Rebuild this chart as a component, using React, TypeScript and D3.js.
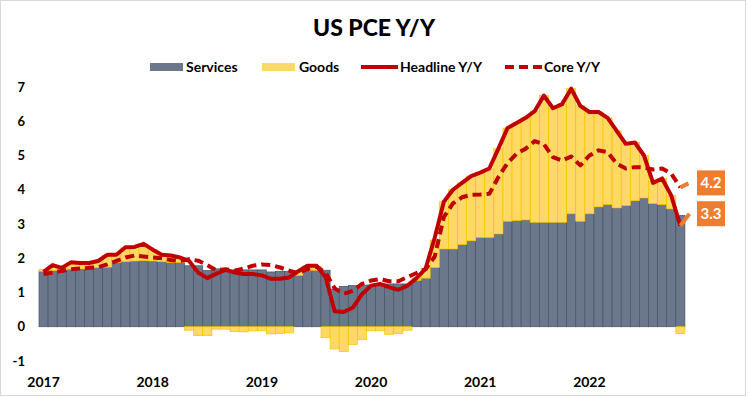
import React from "react";
import * as d3 from "d3";

// contributions (pp), one per month
const services = [
  1.62, 1.64, 1.66, 1.68, 1.69, 1.71, 1.73, 1.74, 1.88, 1.9, 1.92, 1.93,
  1.92, 1.9, 1.88, 1.88, 1.78, 1.78, 1.64, 1.69, 1.66, 1.66, 1.66, 1.66,
  1.66, 1.6, 1.62, 1.62, 1.5, 1.65, 1.65, 1.65, 1.1, 1.18, 1.2, 1.2,
  1.22, 1.25, 1.25, 1.25, 1.25, 1.35, 1.42, 1.73, 2.27, 2.27, 2.4, 2.51,
  2.61, 2.61, 2.71, 3.08, 3.1, 3.12, 3.05, 3.05, 3.05, 3.05, 3.3, 3.08,
  3.3, 3.5, 3.57, 3.47, 3.54, 3.68, 3.76, 3.6, 3.57, 3.44, 3.25
];
const goods = [
  0.05, 0.14, 0.08, 0.18, 0.16, 0.14, 0.18, 0.34, 0.2, 0.4, 0.4, 0.48,
  0.32, 0.2, 0.2, 0.14, -0.1, -0.26, -0.26, -0.07, -0.07, -0.14, -0.15, -0.12,
  -0.12, -0.21, -0.2, -0.18, 0.1, 0.12, 0.12, -0.32, -0.65, -0.72, -0.52, -0.38,
  -0.12, -0.12, -0.22, -0.2, -0.1, 0.07, 0.28, 0.8, 1.38, 1.73, 1.8, 1.89,
  1.89, 2.0, 2.49, 2.72, 2.85, 2.98, 3.25, 3.7, 3.33, 3.45, 3.65, 3.37,
  2.97, 2.77, 2.53, 2.25, 1.8, 1.7, 1.24, 0.65, 0.76, 0.39, -0.2
];
const headline = [
  1.6, 1.8, 1.72, 1.88, 1.86, 1.86, 1.92, 2.1, 2.1, 2.32, 2.33, 2.42,
  2.25, 2.1, 2.08, 2.02, 1.92, 1.58, 1.42, 1.55, 1.66, 1.58, 1.54, 1.54,
  1.5, 1.4, 1.4, 1.44, 1.62, 1.78, 1.78, 1.45, 0.45, 0.43, 0.56, 0.95,
  1.2, 1.25, 1.15, 1.08, 1.2, 1.42, 1.7, 2.6, 3.65, 4.0, 4.2, 4.4,
  4.5, 4.62, 5.2, 5.8, 5.95, 6.1, 6.3, 6.75, 6.38, 6.5, 6.95, 6.45,
  6.27, 6.27, 6.1, 5.72, 5.34, 5.38, 5.0, 4.2, 4.33, 3.83, 2.95, 3.3
];
const core = [
  1.54, 1.58, 1.63, 1.68, 1.7, 1.72, 1.74, 1.82, 1.92, 2.02, 2.08, 2.05,
  2.02, 2.0, 1.95, 1.92, 1.97, 1.93, 1.8, 1.65, 1.68, 1.64, 1.7, 1.78,
  1.82, 1.8, 1.73, 1.64, 1.56, 1.68, 1.76, 1.58, 1.12, 0.96, 1.05, 1.25,
  1.35, 1.39, 1.33, 1.33, 1.45, 1.57, 1.68, 2.05, 3.2, 3.6, 3.78, 3.85,
  3.86, 3.88, 4.37, 4.78, 5.05, 5.2, 5.42, 5.33, 4.95, 4.85, 4.97, 4.71,
  5.0, 5.15, 5.1, 4.76, 4.62, 4.66, 4.65, 4.59, 4.62, 4.47, 4.07, 4.2
];
const yearLabels = ["2017", "2018", "2019", "2020", "2021", "2022"];
const yTicks = [7, 6, 5, 4, 3, 2, 1, 0, -1];

const FONT = "Lato, 'Open Sans', sans-serif";
const RED = "#c00000";
const ORANGE = "#ed7d31";
const DASH = "9 5";

export default function App() {
  const width = 748;
  const height = 398;

  const periods = d3.range(headline.length);
  const x = d3.scaleBand<number>().domain(periods).range([39, 694]).padding(0);
  const y = d3.scaleLinear().domain([-1, 7]).range([361, 87]);
  const cx = (i: number) => (x(i) as number) + x.bandwidth() / 2;

  const line = d3
    .line<[number, number]>()
    .x((d) => cx(d[0]))
    .y((d) => y(d[1]));

  const n = headline.length;
  const pts = (arr: number[]) => arr.map((v, i) => [i, v] as [number, number]);
  const head = pts(headline);
  const cor = pts(core);

  const legendY = 67;

  return (
    <svg
      width={width}
      height={height}
      style={{ position: "absolute", left: 0, top: 0, background: "#fff" }}
      fontFamily={FONT}
    >
      <rect x={0.5} y={0.5} width={width - 3} height={height - 3} fill="#fff" stroke="#d9d9d9" />

      <text x={374} y={36} textAnchor="middle" fontSize={23} fontWeight="900" fill="#000">
        US PCE Y/Y
      </text>

      {/* legend */}
      <g fontSize={14} fontWeight="bold" fill="#000">
        <rect x={150} y={legendY - 4} width={33} height={8} fill="#6b788c" />
        <text x={186} y={legendY + 5}>Services</text>
        <rect x={262} y={legendY - 4} width={33} height={8} fill="#ffd966" />
        <text x={299} y={legendY + 5}>Goods</text>
        <line x1={361} x2={398} y1={legendY} y2={legendY} stroke={RED} strokeWidth={4} />
        <text x={400} y={legendY + 5}>Headline Y/Y</text>
        <line x1={505} x2={542} y1={legendY} y2={legendY} stroke={RED} strokeWidth={4} strokeDasharray={DASH} />
        <text x={544} y={legendY + 5}>Core Y/Y</text>
      </g>

      {/* y axis labels */}
      {yTicks.map((t) => (
        <text key={t} x={25} y={y(t)} dy="0.35em" textAnchor="end" fontSize={13} fontWeight="bold" fill="#000">
          {t}
        </text>
      ))}

      {/* year labels */}
      {yearLabels.map((lab, k) => (
        <text key={lab} x={cx(k * 12)} y={387} textAnchor="middle" fontSize={14} fontWeight="bold" fill="#000">
          {lab}
        </text>
      ))}

      {/* bars */}
      {services.map((s, i) => (
        <rect
          key={"s" + i}
          x={x(i)}
          y={y(s)}
          width={x.bandwidth()}
          height={y(0) - y(s)}
          fill="#6b788c"
          stroke="#44546a"
          strokeWidth={0.7}
        />
      ))}
      {goods.map((g, i) => {
        const base = g >= 0 ? services[i] : 0;
        const y0 = y(base);
        const y1 = y(base + g);
        return (
          <rect
            key={"g" + i}
            x={x(i)}
            y={Math.min(y0, y1)}
            width={x.bandwidth()}
            height={Math.abs(y1 - y0)}
            fill="#ffd966"
            stroke="#ffc000"
            strokeWidth={0.7}
          />
        );
      })}

      {/* lines */}
      <path d={line(head.slice(0, n - 1)) as string} fill="none" stroke={RED} strokeWidth={4} strokeLinejoin="round" />
      <path d={line(head.slice(n - 2)) as string} fill="none" stroke={ORANGE} strokeWidth={4} />
      <path d={line(cor.slice(0, n - 1)) as string} fill="none" stroke={RED} strokeWidth={4} strokeDasharray={DASH} strokeLinejoin="round" />
      <path d={line(cor.slice(n - 2)) as string} fill="none" stroke={ORANGE} strokeWidth={4} strokeDasharray={DASH} />

      {/* end labels */}
      {[core[n - 1], headline[n - 1]].map((v, k) => (
        <g key={k} transform={`translate(697,${y(v)})`}>
          <rect x={0} y={-12.5} width={28} height={25} fill={ORANGE} />
          <text x={14} y={0} dy="0.36em" textAnchor="middle" fontSize={15} fontWeight="bold" fill="#fff">
            {v.toFixed(1)}
          </text>
        </g>
      ))}
    </svg>
  );
}
